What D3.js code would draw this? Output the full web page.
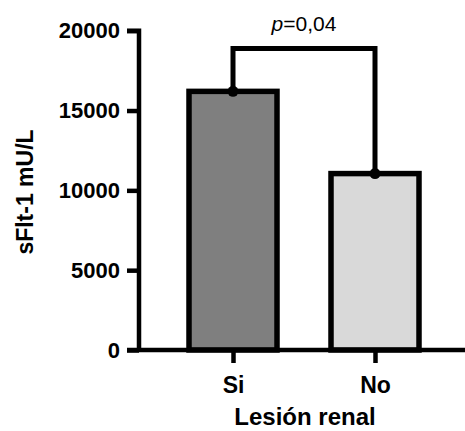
<!DOCTYPE html>
<html>
<head>
<meta charset="utf-8">
<script src="https://cdn.jsdelivr.net/npm/d3@7"></script>
<style>
  body { margin: 0; background: #fff; }
  text { font-family: "Liberation Sans", Arial, sans-serif; }
</style>
</head>
<body>
<div id="chart"></div>
<script>
/* DATA */
const categories = ["Si", "No"];
const values = [16200, 11050];
const fills = ["#7f7f7f", "#d9d9d9"];
const yTicks = [0, 5000, 10000, 15000, 20000];
const pLabel = "=0,04";

const width = 465;
const height = 431;
const margin = { top: 31, left: 139, right: 0, bottom: 81 };

const svg = d3.select("#chart")
  .append("svg")
  .attr("width", width)
  .attr("height", height);

// SCALES
const yScale = d3.scaleLinear()
  .domain([0, 20000])
  .range([350, 30.7]);

const xScale = d3.scalePoint()
  .domain(categories)
  .range([233, 375]);

const barW = 88;

// bars
svg.selectAll("rect.bar")
  .data(values)
  .join("rect")
  .attr("class", "bar")
  .attr("x", (d, i) => xScale(categories[i]) - barW / 2)
  .attr("y", d => yScale(d))
  .attr("width", barW)
  .attr("height", d => yScale(0) - yScale(d))
  .attr("fill", (d, i) => fills[i])
  .attr("stroke", "#000")
  .attr("stroke-width", 5.5);

// y axis
const yAxis = d3.axisLeft(yScale)
  .tickValues(yTicks)
  .tickSize(12)
  .tickPadding(7)
  .tickFormat(d3.format("d"));

svg.append("g")
  .attr("transform", `translate(${margin.left}, 0)`)
  .call(yAxis)
  .call(g => g.select(".domain").attr("stroke-width", 4.5).attr("d", `M-12,${yScale(20000)}H0V${yScale(0)}`))
  .call(g => g.selectAll(".tick line").attr("stroke-width", 4.5))
  .call(g => g.selectAll(".tick text")
    .attr("fill", "#000")
    .style("font-size", "22px")
    .style("font-weight", "bold"));

// x axis line
svg.append("line")
  .attr("x1", 127).attr("x2", width)
  .attr("y1", yScale(0)).attr("y2", yScale(0))
  .attr("stroke", "#000")
  .attr("stroke-width", 4.5);

// x ticks and labels
const xAxis = d3.axisBottom(xScale)
  .tickSize(13)
  .tickPadding(14);

svg.append("g")
  .attr("transform", `translate(0, ${yScale(0)})`)
  .call(xAxis)
  .call(g => g.select(".domain").remove())
  .call(g => g.selectAll(".tick line").attr("stroke-width", 4.5))
  .call(g => g.selectAll(".tick text")
    .attr("fill", "#000")
    .style("font-size", "23px")
    .style("font-weight", "bold"));

// bracket
const bracketY = 48.5;
svg.append("path")
  .attr("d", `M${xScale("Si")},${yScale(values[0])}V${bracketY}H${xScale("No")}V${yScale(values[1])}`)
  .attr("fill", "none")
  .attr("stroke", "#000")
  .attr("stroke-width", 5);

// mean dots
svg.selectAll("circle.dot")
  .data(values)
  .join("circle")
  .attr("class", "dot")
  .attr("cx", (d, i) => xScale(categories[i]))
  .attr("cy", d => yScale(d))
  .attr("r", 5.5)
  .attr("fill", "#000");

// p value
const pText = svg.append("text")
  .attr("x", (xScale("Si") + xScale("No")) / 2)
  .attr("y", 31)
  .attr("text-anchor", "middle")
  .style("font-size", "21px");
pText.append("tspan").style("font-style", "italic").text("p");
pText.append("tspan").text(pLabel);

// y title
svg.append("text")
  .attr("transform", `translate(33, 192) rotate(-90)`)
  .attr("text-anchor", "middle")
  .style("font-size", "23px")
  .style("font-weight", "bold")
  .text("sFlt-1 mU/L");

// x title
svg.append("text")
  .attr("x", 305)
  .attr("y", 425)
  .attr("text-anchor", "middle")
  .style("font-size", "24px")
  .style("font-weight", "bold")
  .text("Lesión renal");
</script>
</body>
</html>
